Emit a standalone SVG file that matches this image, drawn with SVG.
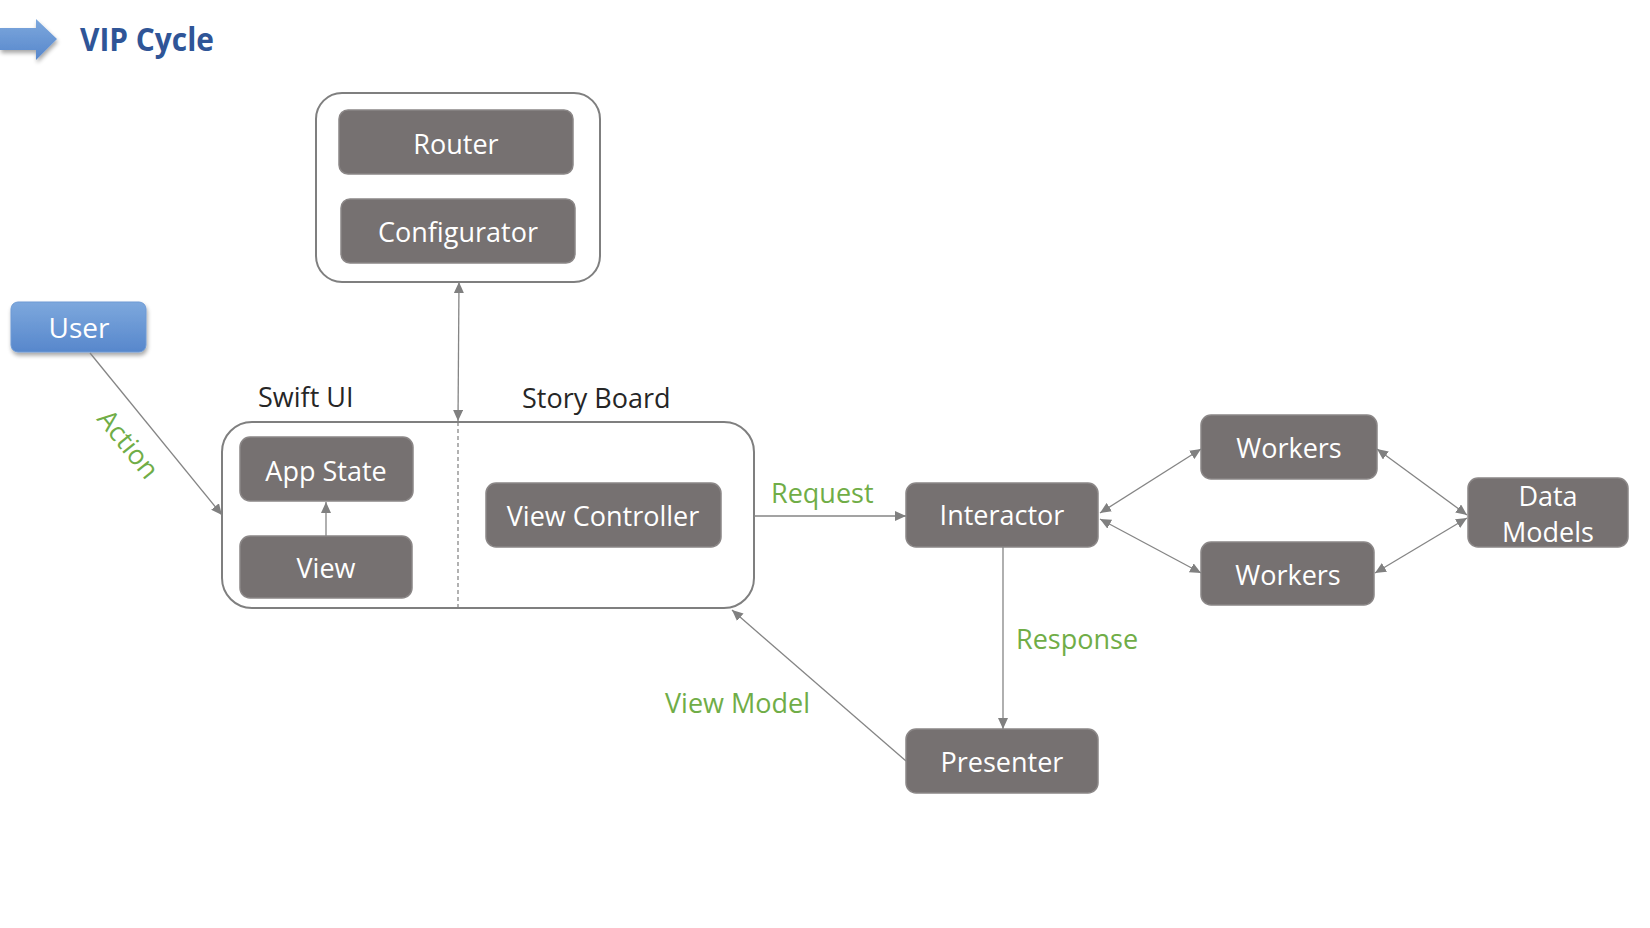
<svg xmlns="http://www.w3.org/2000/svg" width="1650" height="928" viewBox="0 0 1650 928">
  <defs>
    <style>
      .node rect { fill: #767171; stroke: #8B8787; stroke-width: 1.5; }
      .node text { fill: #FFFFFF; font-family: "Open Sans", "Noto Sans", sans-serif; font-size: 27px; text-anchor: middle; }
      .container { fill: none; stroke: #7F7F7F; stroke-width: 2; }
      .conn { stroke: #858585; stroke-width: 1.3; fill: none; }
      .lbl { fill: #70AD47; font-family: "Open Sans", "Noto Sans", sans-serif; font-size: 27px; }
      .hdr { fill: #262626; font-family: "Open Sans", "Noto Sans", sans-serif; font-size: 27px; }
    </style>
    <marker id="arr" markerUnits="userSpaceOnUse" markerWidth="12" markerHeight="10" refX="11" refY="5" orient="auto-start-reverse">
      <path d="M0,0 L11,5 L0,10 Z" fill="#808080"/>
    </marker>
    <linearGradient id="blueg" x1="0" y1="0" x2="0" y2="1">
      <stop offset="0" stop-color="#7DA8DD"/>
      <stop offset="1" stop-color="#5787CC"/>
    </linearGradient>
    <filter id="shadow" x="-20%" y="-20%" width="140%" height="160%">
      <feGaussianBlur in="SourceAlpha" stdDeviation="2"/>
      <feOffset dx="1" dy="3" result="b"/>
      <feComponentTransfer><feFuncA type="linear" slope="0.35"/></feComponentTransfer>
      <feMerge><feMergeNode/><feMergeNode in="SourceGraphic"/></feMerge>
    </filter>
  </defs>
  <rect width="1650" height="928" fill="#FFFFFF"/>

  <g id="title">
    <polygon points="0,28 36,28 36,19 57,39 36,60 36,50 0,50" fill="url(#blueg)" filter="url(#shadow)"/>
    <text x="80" y="51" font-family="'Open Sans', 'Noto Sans', sans-serif" font-size="32" font-weight="bold" fill="#2F5597" textLength="134" lengthAdjust="spacingAndGlyphs">VIP Cycle</text>
  </g>

  <g id="router-group">
    <rect class="container" x="316" y="93" width="284" height="189" rx="26"/>
  </g>
  <g id="router" class="node">
    <rect x="339" y="110" width="234" height="64" rx="9"/>
    <text x="456" y="154">Router</text>
  </g>
  <g id="configurator" class="node">
    <rect x="341" y="199" width="234" height="64" rx="9"/>
    <text x="458" y="242">Configurator</text>
  </g>

  <g id="user">
    <rect x="11" y="302" width="135" height="50" rx="7" fill="url(#blueg)" stroke="#6E9AD4" stroke-width="1" filter="url(#shadow)"/>
    <text x="79" y="338" font-family="'Open Sans', 'Noto Sans', sans-serif" font-size="28" fill="#FFFFFF" text-anchor="middle">User</text>
  </g>

  <g id="view-layer">
    <rect class="container" x="222" y="422" width="532" height="186" rx="30"/>
    <line x1="458" y1="422" x2="458" y2="608" stroke="#7F7F7F" stroke-width="1.2" stroke-dasharray="4,3"/>
    <text class="hdr" x="258" y="407">Swift UI</text>
    <text class="hdr" x="522" y="408">Story Board</text>
  </g>
  <g id="app-state" class="node">
    <rect x="240" y="437" width="173" height="64" rx="10"/>
    <text x="326" y="481">App State</text>
  </g>
  <g id="view" class="node">
    <rect x="240" y="536" width="172" height="62" rx="10"/>
    <text x="326" y="578">View</text>
  </g>
  <g id="view-controller" class="node">
    <rect x="486" y="483" width="235" height="64" rx="10"/>
    <text x="603" y="526">View Controller</text>
  </g>

  <g id="interactor" class="node">
    <rect x="906" y="483" width="192" height="64" rx="10"/>
    <text x="1002" y="525">Interactor</text>
  </g>
  <g id="workers-1" class="node">
    <rect x="1201" y="415" width="176" height="64" rx="10"/>
    <text x="1289" y="458">Workers</text>
  </g>
  <g id="workers-2" class="node">
    <rect x="1201" y="542" width="173" height="63" rx="10"/>
    <text x="1288" y="585">Workers</text>
  </g>
  <g id="data-models" class="node">
    <rect x="1468" y="478" width="160" height="69" rx="10"/>
    <text x="1548" y="506">Data</text>
    <text x="1548" y="542">Models</text>
  </g>
  <g id="presenter" class="node">
    <rect x="906" y="729" width="192" height="64" rx="10"/>
    <text x="1002" y="772">Presenter</text>
  </g>

  <g id="connectors">
    <line class="conn" x1="90" y1="353" x2="222" y2="515" marker-end="url(#arr)"/>
    <line class="conn" x1="459" y1="282" x2="458" y2="421" marker-start="url(#arr)" marker-end="url(#arr)"/>
    <line class="conn" x1="326" y1="536" x2="326" y2="502" marker-end="url(#arr)"/>
    <line class="conn" x1="754" y1="516" x2="906" y2="516" marker-end="url(#arr)"/>
    <line class="conn" x1="1100" y1="513" x2="1201" y2="449" marker-start="url(#arr)" marker-end="url(#arr)"/>
    <line class="conn" x1="1100" y1="519" x2="1201" y2="573" marker-start="url(#arr)" marker-end="url(#arr)"/>
    <line class="conn" x1="1377" y1="449" x2="1467" y2="515" marker-start="url(#arr)" marker-end="url(#arr)"/>
    <line class="conn" x1="1375" y1="573" x2="1467" y2="518" marker-start="url(#arr)" marker-end="url(#arr)"/>
    <line class="conn" x1="1003" y1="547" x2="1003" y2="729" marker-end="url(#arr)"/>
    <line class="conn" x1="906" y1="761" x2="732" y2="610" marker-end="url(#arr)"/>
    <text class="lbl" transform="translate(121,450) rotate(51)" text-anchor="middle">Action</text>
    <text class="lbl" x="771" y="503">Request</text>
    <text class="lbl" x="1016" y="649">Response</text>
    <text class="lbl" x="665" y="713">View Model</text>
  </g>
</svg>
